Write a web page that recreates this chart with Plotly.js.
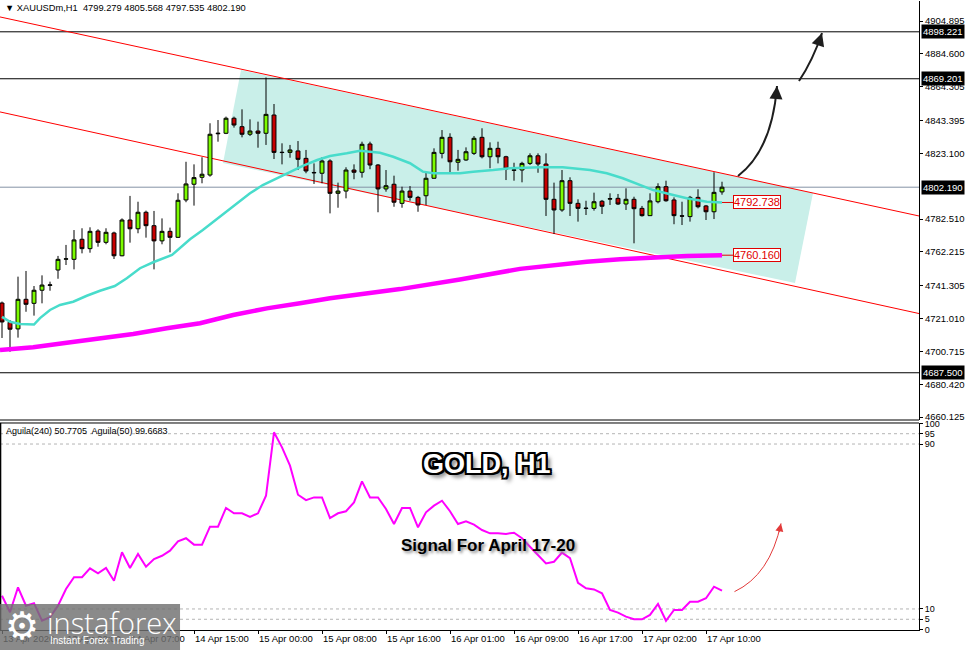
<!DOCTYPE html>
<html><head><meta charset="utf-8">
<script src="https://cdn.plot.ly/plotly-3.0.1.min.js"></script>
<style>html,body{margin:0;padding:0;background:#fff;}#chart{width:976px;height:650px;}</style>
</head><body><div id="chart"></div>
<script>
// ---------- DATA ----------
const symbol = 'XAUUSDm,H1';
const openP  = [4730.6,4718.7,4714.6,4732.9,4730.4,4738.5,4741.5,4751.0,4757.7,4757.6,4770.0,4764.2,4775.1,4768.1,4773.9,4759.8,4781.9,4776.5,4786.7,4778.4,4769.0,4774.9,4771.2,4794.3,4804.0,4808.3,4809.7,4835.2,4835.5,4844.8,4839.6,4834.9,4836.9,4835.5,4846.8,4823.8,4823.7,4824.6,4820.0,4811.3,4810.8,4818.4,4798.4,4799.8,4812.8,4811.4,4828.9,4815.9,4801.1,4804.0,4792.2,4799.8,4795.9,4796.9,4807.7,4823.1,4833.0,4817.6,4819.0,4823.1,4833.0,4821.0,4826.2,4821.0,4812.6,4812.8,4816.9,4821.6,4816.5,4794.7,4788.1,4806.2,4792.2,4789.0,4789.1,4793.5,4794.8,4795.3,4791.8,4794.7,4789.1,4784.6,4793.2,4802.5,4794.3,4784.5,4784.0,4795.9,4790.6,4787.0,4799.279];
const highP  = [4731.5,4720.1,4746.9,4750.4,4741.1,4747.7,4743.8,4759.7,4766.5,4775.7,4776.8,4777.4,4776.2,4776.8,4774.7,4782.9,4796.8,4793.2,4787.7,4787.5,4782.9,4777.2,4798.4,4817.9,4816.3,4820.7,4841.7,4843.7,4845.8,4845.8,4850.3,4844.1,4842.7,4870.0,4853.6,4829.3,4828.3,4830.7,4825.2,4816.9,4820.7,4819.4,4805.0,4814.5,4816.3,4830.3,4830.3,4816.5,4812.8,4809.3,4802.5,4802.9,4796.8,4811.8,4826.2,4837.5,4835.5,4825.2,4826.8,4833.8,4838.6,4829.9,4830.3,4821.6,4817.3,4817.9,4823.1,4823.1,4823.1,4805.0,4812.8,4808.3,4794.7,4793.8,4798.8,4794.3,4798.4,4798.0,4801.5,4796.3,4790.6,4798.4,4804.6,4806.2,4795.9,4793.2,4796.8,4800.9,4791.2,4811.4,4805.568];
const lowP   = [4709.0,4700.5,4709.2,4725.2,4722.8,4730.4,4738.2,4745.6,4754.1,4751.4,4761.3,4761.7,4765.4,4766.9,4757.8,4759.5,4767.9,4773.7,4771.0,4751.4,4766.9,4761.9,4770.8,4792.9,4790.8,4804.6,4808.7,4830.3,4835.0,4839.0,4833.0,4833.8,4826.6,4828.3,4819.6,4816.3,4820.4,4812.8,4810.8,4804.2,4804.6,4786.0,4789.5,4795.3,4807.1,4808.1,4813.3,4786.7,4799.4,4790.1,4789.5,4793.8,4787.0,4791.2,4807.5,4820.0,4810.8,4812.4,4818.5,4822.1,4820.0,4813.9,4816.9,4806.6,4806.2,4805.2,4815.9,4811.1,4784.4,4773.3,4787.0,4784.4,4780.9,4785.0,4787.7,4785.6,4791.2,4791.2,4788.1,4767.5,4784.0,4784.4,4792.2,4793.2,4779.3,4778.8,4780.9,4789.1,4781.9,4782.5,4797.535];
const closeP = [4718.9,4714.4,4732.9,4729.8,4738.5,4741.7,4741.8,4757.6,4757.9,4769.6,4764.2,4774.9,4768.1,4774.3,4759.8,4781.9,4776.5,4786.7,4778.4,4769.0,4774.9,4771.2,4794.1,4804.2,4808.1,4810.2,4834.9,4835.5,4844.8,4840.6,4834.9,4836.9,4835.5,4847.2,4823.7,4823.6,4825.2,4819.4,4812.2,4811.1,4818.4,4798.4,4799.8,4812.8,4811.4,4828.7,4815.9,4801.1,4803.1,4792.9,4799.8,4795.9,4791.2,4807.7,4823.7,4833.0,4817.9,4819.4,4824.1,4832.4,4821.0,4826.2,4821.0,4813.4,4812.9,4816.9,4821.6,4816.5,4794.7,4788.1,4806.2,4792.2,4789.1,4789.2,4793.2,4790.4,4795.1,4791.8,4794.7,4788.9,4784.6,4793.7,4802.5,4793.8,4784.6,4784.3,4795.9,4790.1,4787.0,4799.0,4802.190];

// fast moving average (cyan) read at bar positions
const maFastX = [0,1,2.25,4,4.75,6,7.25,8.9,10.6,12.25,14.1,15.6,17.25,18.9,21.25,22.5,23.5,25.1,27.25,29.4,31,32.6,34.4,36,37.6,39.4,41,43.1,44.75,46,47.25,48.9,51,52.6,53.9,57.25,58.9,61.4,63.5,67.25,70.1,73.5,75.6,77.6,79.75,81.4,83.9,85.6,88.1,90];
const maFastY = [4722.0,4719.0,4717.6,4717.3,4721.3,4726.3,4729.4,4731.4,4735.1,4738.2,4741.1,4745.9,4752.1,4755.8,4760.3,4765.4,4770.0,4775.7,4783.9,4792.2,4798.4,4803.5,4807.7,4811.8,4815.3,4819.0,4821.5,4823.1,4824.7,4824.1,4823.5,4821.0,4817.0,4811.8,4810.8,4810.8,4811.8,4812.8,4813.9,4814.5,4814.5,4812.8,4810.8,4807.7,4803.5,4800.4,4797.4,4795.3,4793.2,4792.738];
// slow moving average (magenta)
const maSlowX = [-0.25,3.9,8.1,12.25,16.4,20.6,24.75,28.9,33.1,37.25,41,49.75,57.25,64.75,68.9,73.1,77.25,81.4,85.6,90];
const maSlowY = [4701.6,4703.2,4706.1,4708.8,4711.5,4715.0,4718.1,4723.2,4727.3,4730.4,4733.5,4739.2,4745.1,4751.7,4754.1,4756.1,4757.6,4758.9,4759.7,4760.160];

// oscillator Aguila(240), one value per bar
const aguila = [16.4,8.4,20.5,11.6,12.8,4.3,6.0,11.6,19.7,25.4,25.4,29.7,27.3,29.9,23.7,37.5,29.9,36.7,30.5,34.2,35.8,38.3,42.8,44.3,41.2,41.2,49.9,49.9,59.0,56.4,56.4,54.7,56.4,64.9,95.7,88.4,79.5,65.4,62.8,64.1,64.1,54.1,56.4,57.4,61.7,71.9,64.1,64.1,58.5,51.2,59.0,59.0,49.6,56.9,60.1,62.5,57.4,51.2,52.5,50.9,48.3,46.7,46.7,46.4,47.0,44.3,40.2,36.2,32.1,32.9,37.3,34.6,22.7,20.0,19.5,17.6,9.5,8.2,6.3,5.0,5.0,7.1,12.4,4.3,9.5,9.5,13.5,13.5,15.2,20.8,18.9];
const oscLevels = [95, 90, 10, 5];
const oscTicks = [100, 95, 90, 10, 5, 0];

// horizontal levels and channel
const hLevels = [4898.221, 4869.201, 4687.500];
const chanX = [-0.25, 114.625];
const chanUpper = [4907.4, 4784.4];
const chanLower = [4848.7, 4724.1];
const zoneX = [29.875, 101.375, 99.125, 27.625];
const zoneY = [4874.6, 4798.6, 4743.0, 4817.1];

// arrows (bar index, price / oscillator value): start, control, end
const arrow1 = [[92.0, 4809.1], [96.25, 4825.2], [96.875, 4864.7]];
const arrow2 = [[99.625, 4867.8], [101.375, 4880.8], [102.5, 4897.5]];
const arrowOsc = [[91.56, 18.4], [96.0, 26.5], [97.375, 51.5]];

// axes
const priceTicks = [4904.895, 4884.600, 4864.305, 4843.395, 4823.100, 4782.510, 4762.215, 4741.305, 4721.010, 4700.715, 4680.420, 4660.125];
const timeTickIdx = [0, 8, 16, 24, 32, 40, 48, 56, 64, 72, 80, 88];
const timeTickLabels = ['13 Apr 2026','13 Apr 22:00','14 Apr 07:00','14 Apr 15:00','15 Apr 00:00','15 Apr 08:00','15 Apr 16:00','16 Apr 01:00','16 Apr 09:00','16 Apr 17:00','17 Apr 02:00','17 Apr 10:00'];

// ---------- BUILD ----------
const barIdx = openP.map((_, i) => i);
const last = openP.length - 1;
const lastFast = maFastY[maFastY.length - 1];
const lastSlow = maSlowY[maSlowY.length - 1];
const bid = closeP[last];

const traces = [];
traces.push({type:'candlestick', x: barIdx, open: openP, high: highP, low: lowP, close: closeP,
  increasing:{fillcolor:'#7cfc00', line:{color:'#000', width:1}},
  decreasing:{fillcolor:'#c80000', line:{color:'#000', width:1}},
  whiskerwidth:0, hoverinfo:'skip', xaxis:'x', yaxis:'y'});
traces.push({type:'scatter', x: maFastX, y: maFastY, mode:'lines', line:{color:'#48dccb', width:2.5}, hoverinfo:'skip', xaxis:'x', yaxis:'y'});
traces.push({type:'scatter', x: maSlowX, y: maSlowY, mode:'lines', line:{color:'#ff00ff', width:4.5}, hoverinfo:'skip', xaxis:'x', yaxis:'y'});
// connectors to value labels
traces.push({type:'scatter', x:[last, last + 1.4], y:[lastFast, lastFast], mode:'lines', line:{color:'#e00000', width:1}, hoverinfo:'skip', xaxis:'x', yaxis:'y'});
traces.push({type:'scatter', x:[last, last + 1.4], y:[lastSlow, lastSlow], mode:'lines', line:{color:'#e00000', width:1}, hoverinfo:'skip', xaxis:'x', yaxis:'y'});
// oscillator
oscLevels.forEach(v => traces.push({type:'scatter', x: chanX, y:[v, v], mode:'lines', line:{color:'#b4b4b4', width:1, dash:'3px,3px'}, hoverinfo:'skip', xaxis:'x', yaxis:'y2'}));
traces.push({type:'scatter', x: barIdx, y: aguila, mode:'lines', line:{color:'#ff00ff', width:2}, hoverinfo:'skip', xaxis:'x', yaxis:'y2'});

// geometry of panels (paper coordinates)
const mainBottom = 0.33386, oscTop = 0.3291;

const q = a => `M ${a[0][0]},${a[0][1]} Q ${a[1][0]},${a[1][1]} ${a[2][0]},${a[2][1]}`;
const zonePath = 'M ' + zoneX.map((x, i) => `${x},${zoneY[i]}`).join(' L ') + ' Z';
const shapes = [
  {type:'path', xref:'x', yref:'y', path: zonePath, fillcolor:'#c9efe9', line:{width:0}, layer:'below'}
];
hLevels.forEach(v => shapes.push({type:'line', xref:'x', yref:'y', x0:chanX[0], x1:chanX[1], y0:v, y1:v, line:{color:'#000', width:1}, layer:'below'}));
shapes.push({type:'line', xref:'x', yref:'y', x0:chanX[0], x1:chanX[1], y0:bid, y1:bid, line:{color:'#8593a6', width:1}, layer:'below'});
shapes.push({type:'line', xref:'x', yref:'y', x0:chanX[0], x1:chanX[1], y0:chanUpper[0], y1:chanUpper[1], line:{color:'#ff0000', width:1}, layer:'below'});
shapes.push({type:'line', xref:'x', yref:'y', x0:chanX[0], x1:chanX[1], y0:chanLower[0], y1:chanLower[1], line:{color:'#ff0000', width:1}, layer:'below'});
shapes.push(
  {type:'path', xref:'x', yref:'y', path: q(arrow1), line:{color:'#1e1e1e', width:2}},
  {type:'path', xref:'x', yref:'y', path: q(arrow2), line:{color:'#1e1e1e', width:2}},
  {type:'path', xref:'x', yref:'y2', path: q(arrowOsc), line:{color:'#e23a3a', width:1}},
  {type:'line', xref:'paper', yref:'paper', x0:0, x1:1, y0:mainBottom, y1:mainBottom, line:{color:'#000', width:1}},
  {type:'line', xref:'paper', yref:'paper', x0:0, x1:1, y0:oscTop, y1:oscTop, line:{color:'#000', width:1}},
  {type:'line', xref:'paper', yref:'paper', x0:0.0006, x1:0.0006, y0:0, y1:oscTop, line:{color:'#000', width:1.5}},
  // logo plate
  {type:'rect', xref:'paper', yref:'paper', x0:0, x1:0.1959, y0:-0.0318, y1:0.0413, fillcolor:'rgba(112,112,112,0.82)', line:{width:0}, layer:'above'}
);

const head = (a, f) => {
  const e = a[2], c = a[1];
  return {x:e[0], y:e[1], ax: e[0] - f*(e[0]-c[0]), ay: e[1] - f*(e[1]-c[1])};
};
const h1 = head(arrow1, 0.12), h2 = head(arrow2, 0.45), h3 = head(arrowOsc, 0.2);

const F = 'Liberation Sans, Arial, sans-serif';
const ann = [];
ann.push({xref:'x', yref:'y', axref:'x', ayref:'y', x:h1.x, y:h1.y, ax:h1.ax, ay:h1.ay, showarrow:true, arrowhead:2, arrowsize:1.3, arrowwidth:2, arrowcolor:'#1e1e1e', text:''});
ann.push({xref:'x', yref:'y', axref:'x', ayref:'y', x:h2.x, y:h2.y, ax:h2.ax, ay:h2.ay, showarrow:true, arrowhead:2, arrowsize:1.3, arrowwidth:2, arrowcolor:'#1e1e1e', text:''});
ann.push({xref:'x', yref:'y2', axref:'x', ayref:'y2', x:h3.x, y:h3.y, ax:h3.ax, ay:h3.ay, showarrow:true, arrowhead:2, arrowsize:1.6, arrowwidth:1, arrowcolor:'#e23a3a', text:''});
// header
ann.push({xref:'paper', yref:'paper', x:0, y:0.9889, xanchor:'left', yanchor:'middle', xshift:3, showarrow:false,
  text:`▼ ${symbol}  ${openP[last].toFixed(3)} ${highP[last].toFixed(3)} ${lowP[last].toFixed(3)} ${closeP[last].toFixed(3)}`,
  font:{family:F, size:9.3, color:'#000'}});
ann.push({xref:'paper', yref:'paper', x:0, y:0.3164, xanchor:'left', yanchor:'middle', xshift:4, showarrow:false,
  text:`Aguila(240) 50.7705  Aguila(50) 99.6683`, font:{family:F, size:9, color:'#000'}});
// price tags on axis
hLevels.concat([bid]).forEach(v => ann.push({xref:'paper', yref:'y', x:1, y:v, xanchor:'left', yanchor:'middle', xshift:2, showarrow:false,
  text: v.toFixed(3), bgcolor:'#000', font:{family:F, size:9.5, color:'#fff'}, borderpad:1}));
// MA value labels
[lastFast, lastSlow].forEach(v => ann.push({xref:'x', yref:'y', x:last + 1.4, y:v, xanchor:'left', yanchor:'middle', showarrow:false,
  text: v.toFixed(3), bgcolor:'#fff', bordercolor:'#e00000', borderwidth:1, borderpad:0, font:{family:F, size:11, color:'#e00000'}}));
// titles
ann.push({xref:'paper', yref:'paper', x:0.5299, y:0.2639, xanchor:'center', yanchor:'middle', showarrow:false, text:'GOLD, H1',
  font:{family:F, size:27, weight:700, color:'#fff',
  shadow:'-2px -2px 0 #000, 2px -2px 0 #000, -2px 2px 0 #000, 2px 2px 0 #000, 0 -2px 0 #000, 0 2px 0 #000, -2px 0 0 #000, 2px 0 0 #000, 4px 4px 4px #666'}});
ann.push({xref:'paper', yref:'paper', x:0.531, y:0.1351, xanchor:'center', yanchor:'middle', showarrow:false, text:'Signal For April 17-20',
  font:{family:F, size:17, weight:700, color:'#000', shadow:'2px 2px 3px #8a8a8a'}});
// logo
ann.push({xref:'paper', yref:'paper', x:0.024, y:0.006, xanchor:'center', yanchor:'middle', showarrow:false, text:'⚙',
  font:{family:'DejaVu Sans', size:38, color:'#fff'}});
ann.push({xref:'paper', yref:'paper', x:0.0495, y:0.0125, xanchor:'left', yanchor:'middle', showarrow:false, text:'instaforex',
  font:{family:'Open Sans', size:29, weight:300, color:'#fff'}});
ann.push({xref:'paper', yref:'paper', x:0.052, y:-0.0165, xanchor:'left', yanchor:'middle', showarrow:false, text:'Instant Forex Trading',
  font:{family:F, size:10, color:'#fff'}});

const layout = {
  width:976, height:650,
  margin:{l:0, r:57, t:1, b:20, pad:0},
  paper_bgcolor:'#fff', plot_bgcolor:'#fff',
  showlegend:false, hovermode:false, dragmode:false,
  xaxis:{domain:[0,1], range:[-0.25, 114.625], anchor:'y2', tickmode:'array', tickvals: timeTickIdx, ticktext: timeTickLabels,
    ticks:'outside', ticklen:3, tickcolor:'#000', tickfont:{family:F, size:9.5, color:'#000'}, ticklabelposition:'outside right',
    showgrid:false, zeroline:false, showline:true, linecolor:'#000', linewidth:1, rangeslider:{visible:false}},
  yaxis:{domain:[mainBottom, 1], range:[4658.3, 4917.26], side:'right', anchor:'x', tickmode:'array', tickvals: priceTicks,
    ticktext: priceTicks.map(v => v.toFixed(3)), ticks:'outside', ticklen:3, tickcolor:'#000', tickfont:{family:F, size:9.5, color:'#000'},
    showgrid:false, zeroline:false, showline:true, linecolor:'#000', linewidth:1},
  yaxis2:{domain:[0, oscTop], range:[-0.2, 100.2], side:'right', anchor:'x', tickmode:'array', tickvals: oscTicks,
    ticktext: oscTicks.map(String), ticks:'outside', ticklen:3, tickcolor:'#000', tickfont:{family:F, size:9, color:'#000'},
    showgrid:false, zeroline:false, showline:true, linecolor:'#000', linewidth:1},
  shapes: shapes,
  annotations: ann
};
Plotly.newPlot('chart', traces, layout, {staticPlot:true, displayModeBar:false});
</script>
</body></html>
